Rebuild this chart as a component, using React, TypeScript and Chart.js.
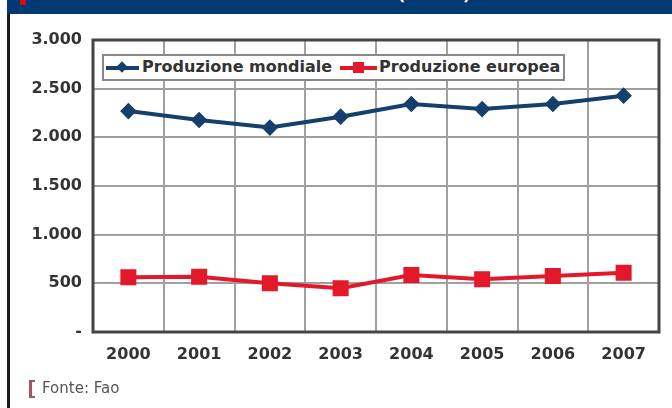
import React, { useEffect, useRef } from "react";
import { Chart, registerables } from "chart.js";

Chart.register(...registerables);

const years = ["2000", "2001", "2002", "2003", "2004", "2005", "2006", "2007"];
const produzioneMondiale = [2270, 2178, 2100, 2212, 2342, 2290, 2342, 2428];
const produzioneEuropea = [562, 568, 500, 449, 586, 541, 575, 609];
const yTicks = [0, 500, 1000, 1500, 2000, 2500, 3000];
const seriesLabels = ["Produzione mondiale", "Produzione europea"];

const BLUE = "#173f6d";
const RED = "#e3192b";
const FONT = "'DejaVu Sans', sans-serif";

const fmt = (v: number) =>
  v === 0 ? "-" : v >= 1000 ? `${Math.floor(v / 1000)}.${String(v % 1000).padStart(3, "0")}` : String(v);

const framePlugin = {
  id: "frame",
  beforeDatasetsDraw(chart: any) {
    const { ctx, chartArea: a } = chart;
    ctx.save();
    ctx.strokeStyle = "#444";
    ctx.lineWidth = 3;
    ctx.strokeRect(a.left, a.top, a.right - a.left, a.bottom - a.top);
    ctx.restore();
  },
};

export default function App() {
  const ref = useRef<HTMLCanvasElement | null>(null);
  useEffect(() => {
    if (!ref.current) return;
    const chart = new Chart(ref.current, {
      type: "line",
      data: {
        labels: years,
        datasets: [
          {
            label: seriesLabels[0],
            data: produzioneMondiale,
            borderColor: BLUE,
            backgroundColor: BLUE,
            borderWidth: 4,
            pointStyle: "rectRot",
            pointRadius: 5.5,
            tension: 0,
          },
          {
            label: seriesLabels[1],
            data: produzioneEuropea,
            borderColor: RED,
            backgroundColor: RED,
            borderWidth: 4,
            pointStyle: "rect",
            pointRadius: 8.5,
            tension: 0,
          },
        ],
      },
      options: {
        animation: false,
        responsive: false,
        maintainAspectRatio: false,
        layout: { padding: { left: 0, right: 13, top: 40, bottom: 0 } },
        plugins: { legend: { display: false }, tooltip: { enabled: false } },
        scales: {
          x: {
            offset: true,
            grid: { offset: true, color: "#a0a0a0", lineWidth: 2, drawTicks: false },
            border: { display: false },
            ticks: { color: "#333", font: { family: FONT, size: 16, weight: "bold" }, padding: 13 },
            afterFit: (s: any) => {
              s.height = 76;
            },
          },
          y: {
            min: 0,
            max: 3000,
            afterBuildTicks: (s: any) => {
              s.ticks = yTicks.map((v) => ({ value: v }));
            },
            grid: { color: "#a0a0a0", lineWidth: 2, drawTicks: false },
            border: { display: false },
            ticks: {
              color: "#333",
              font: { family: FONT, size: 16, weight: "bold" },
              padding: 11,
              callback: (v: any) => fmt(Number(v)),
            },
            afterFit: (s: any) => {
              s.width = 93;
            },
          },
        },
      },
      plugins: [framePlugin],
    });
    return () => chart.destroy();
  }, []);

  return (
    <div style={{ position: "absolute", left: 0, top: 0, width: 672, height: 408, overflow: "hidden", background: "#fff", fontFamily: FONT }}>
      <canvas ref={ref} width={672} height={408} style={{ position: "absolute", left: 0, top: 0 }} />
      <div style={{ position: "absolute", left: 7, top: 0, width: 665, height: 14, background: "#003a70", overflow: "hidden" }}>
        <div style={{ position: "absolute", left: 13, top: 0, width: 6, height: 5, background: "#e30613" }} />
        <span style={{ position: "absolute", left: 391, top: -13, lineHeight: "16px", fontSize: 16, fontWeight: "bold", color: "#fff", whiteSpace: "nowrap" }}>(1000 t)</span>
      </div>
      <div style={{ position: "absolute", left: 7, top: 14, width: 3, height: 394, background: "#1a1a1a" }} />
      <div style={{ position: "absolute", left: 102, top: 54, width: 459, height: 23, border: "2px solid #888", background: "#fff" }}>
        <div style={{ position: "absolute", left: 2, top: 10, width: 33, height: 4, background: BLUE }} />
        <div style={{ position: "absolute", left: 14, top: 7, width: 8, height: 8, background: BLUE, transform: "rotate(45deg)" }} />
        <span style={{ position: "absolute", left: 38, top: 1, fontSize: 16, fontWeight: "bold", color: "#333", whiteSpace: "nowrap", lineHeight: "20px" }}>{seriesLabels[0]}</span>
        <div style={{ position: "absolute", left: 236, top: 10, width: 37, height: 4, background: RED }} />
        <div style={{ position: "absolute", left: 249, top: 6, width: 11, height: 11, background: RED }} />
        <span style={{ position: "absolute", left: 275, top: 1, fontSize: 16, fontWeight: "bold", color: "#333", whiteSpace: "nowrap", lineHeight: "20px" }}>{seriesLabels[1]}</span>
      </div>
      <div style={{ position: "absolute", left: 29, top: 380, width: 3, height: 18, background: "#a5555c" }} />
      <div style={{ position: "absolute", left: 29, top: 380, width: 6, height: 2, background: "#a5555c" }} />
      <div style={{ position: "absolute", left: 29, top: 396, width: 6, height: 2, background: "#a5555c" }} />
      <span style={{ position: "absolute", left: 42, top: 378, fontSize: 15, color: "#555", whiteSpace: "nowrap", lineHeight: "20px" }}>Fonte: Fao</span>
    </div>
  );
}
